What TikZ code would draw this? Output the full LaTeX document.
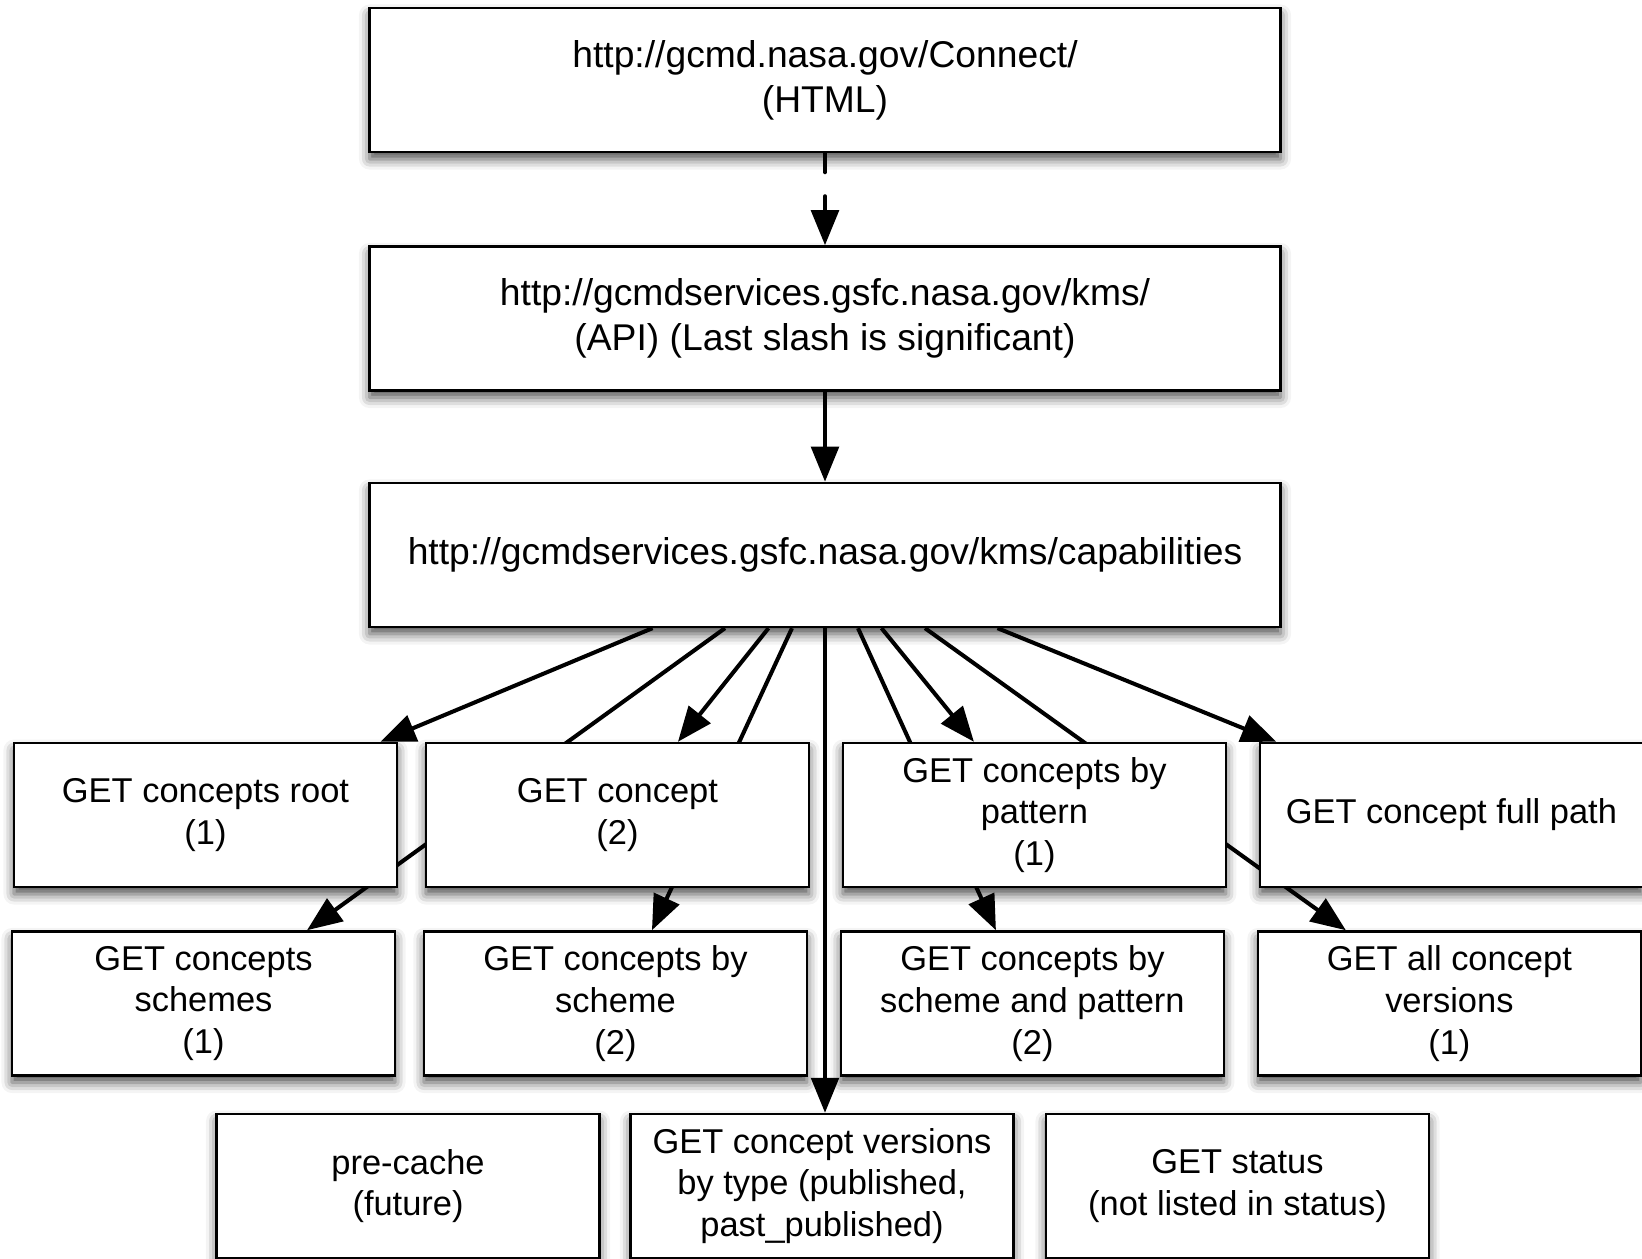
\documentclass[tikz,border=0pt]{standalone}
\usepackage{fontspec}
\setmainfont{Liberation Sans}
\usetikzlibrary{arrows.meta}
\usetikzlibrary{positioning}
\usetikzlibrary{shadows.blur}

\pgfdeclarelayer{edges}
\pgfsetlayers{edges,main}

\tikzset{
  box/.style={draw, line width=1.4pt, fill=white, align=center,
    minimum width=7.66cm, minimum height=2.88cm, inner sep=2pt,
    font=\fontsize{19.6}{23.8}\selectfont,
    blur shadow={shadow xshift=0pt, shadow yshift=-4pt,
      shadow blur radius=6pt, shadow opacity=70}},
  wide/.style={box, minimum width=18.22cm, font=\fontsize{21.2}{25.7}\selectfont},
  link/.style={line width=2.3pt, -{Triangle[length=0.7cm,width=0.55cm]}},
}

\begin{document}
\begin{tikzpicture}
        \useasboundingbox (0,0) rectangle (32.84,-25.16);

        \node[wide] (conn) at (16.5,-1.6) {http://gcmd.nasa.gov/Connect/\\(HTML)};
        \node[wide, below=1.84cm of conn] (kms) {http://gcmdservices.gsfc.nasa.gov/kms/\\(API) (Last slash is significant)};
        \node[wide, below=1.80cm of kms] (cap) {http://gcmdservices.gsfc.nasa.gov/kms/capabilities};

        % first row
        \node[box] (root) at (4.11,-16.3) {GET concepts root\\(1)};
        \node[box, right=0.53cm of root] (concept) {GET concept\\(2)};
        \node[box, right=0.63cm of concept] (pattern) {GET concepts by\\pattern\\(1)};
        \node[box, right=0.63cm of pattern] (fullpath) {GET concept full path};

        % second row
        \node[box, below=0.84cm of root, xshift=-0.04cm] (schemes) {GET concepts\\schemes\\(1)};
        \node[box, right=0.53cm of schemes] (byscheme) {GET concepts by\\scheme\\(2)};
        \node[box, right=0.63cm of byscheme] (schemepat) {GET concepts by\\scheme and pattern\\(2)};
        \node[box, right=0.63cm of schemepat] (allvers) {GET all concept\\versions\\(1)};

        % third row
        \node[box] (vers) at (16.44,-23.72) {GET concept versions\\by type (published,\\past\_published)};
        \node[box, left=0.57cm of vers] (precache) {pre-cache\\(future)};
        \node[box, right=0.6cm of vers] (status) {GET status\\(not listed in status)};

        \begin{pgfonlayer}{edges}
        \draw[link, dash pattern=on 0.38cm off 0.48cm, line cap=round] (conn.south) -- (kms.north);
        \draw[link] (kms.south) -- (cap.north);

        \draw[link] ([xshift=-3.45cm]cap.south) -- ([xshift=3.5cm]root.north);
        \draw[link] ([xshift=-2.0cm]cap.south) -- ([xshift=2.07cm]schemes.north);
        \draw[link] ([xshift=-1.13cm]cap.south) -- ([xshift=1.21cm]concept.north);
        \draw[link] ([xshift=-0.66cm]cap.south) -- ([xshift=0.73cm]byscheme.north);
        \draw[link] (cap.south) -- (cap.south |- vers.north);
        \draw[link] ([xshift=0.66cm]cap.south) -- ([xshift=-0.73cm]schemepat.north);
        \draw[link] ([xshift=1.13cm]cap.south) -- ([xshift=-1.21cm]pattern.north);
        \draw[link] ([xshift=2.0cm]cap.south) -- ([xshift=-2.07cm]allvers.north);
        \draw[link] ([xshift=3.45cm]cap.south) -- ([xshift=-3.5cm]fullpath.north);
        \end{pgfonlayer}
\end{tikzpicture}
\end{document}
